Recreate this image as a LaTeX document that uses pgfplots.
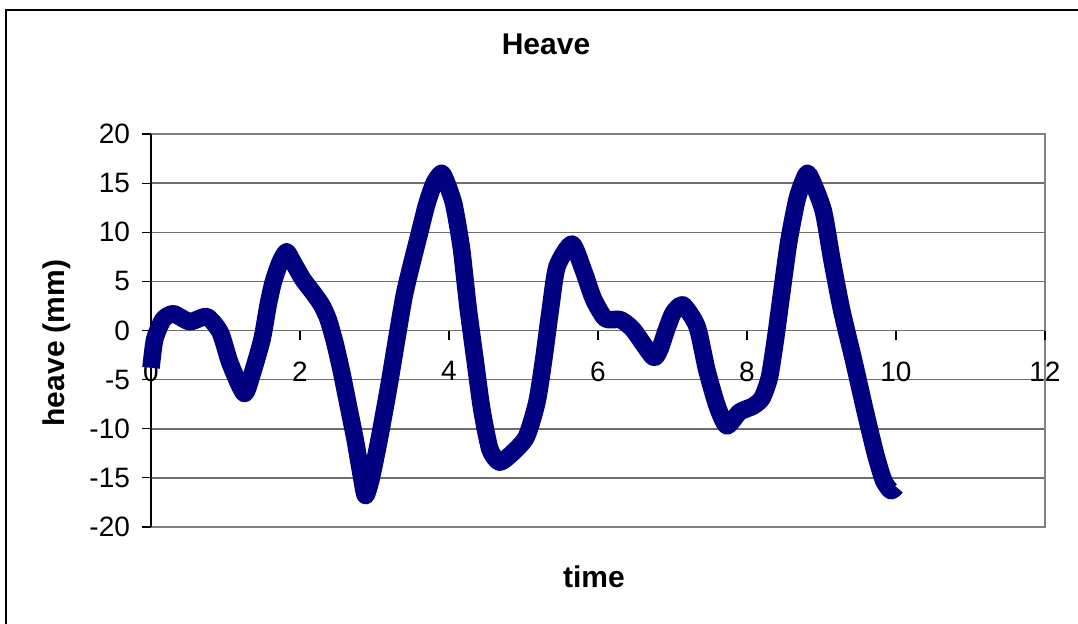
\documentclass[border=0pt]{standalone}
\usepackage{pgfplots}
\pgfplotsset{compat=1.18}
\usepackage{fontspec}
\setmainfont{Liberation Sans}
\definecolor{navyline}{HTML}{000080}
\definecolor{gridgray}{HTML}{6E6E6E}
\definecolor{boxgray}{HTML}{808080}
\begin{document}
\begin{tikzpicture}
\useasboundingbox (0,0) rectangle (539pt,311.5pt);
\draw[line width=1pt] (3pt,-5pt) -- (3pt,306.5pt) -- (560pt,306.5pt);
\pgfplotsset{common/.style={
  scale only axis, width=447pt, height=196.5pt,
  at={(75.5pt,48pt)}, anchor=south west,
  xmin=0, xmax=12, ymin=-20, ymax=20,
  /pgf/number format/assume math mode=true,
  ticklabel style={font=\fontsize{14}{16}\selectfont},
}}
% background: box and grid
\begin{axis}[common,
  axis line style={boxgray, line width=1pt},
  xtick=\empty, ytick={-20,-15,...,20}, yticklabels={},
  ymajorgrids, major grid style={gridgray, line width=0.75pt},
  major tick length=0pt]
\end{axis}
% foreground: axes and data
\begin{axis}[common,
  axis x line=middle, axis y line=left,
  hide obscured x ticks=false,
  x axis line style={-, gridgray, line width=0.75pt},
  y axis line style={-, black, line width=0.8pt},
  xtick={0,2,...,12}, ytick={-20,-15,...,20},
  tick align=outside, major tick length=4.5pt,
  tick style={black, line width=0.6pt},
  xticklabel style={yshift=-7.5pt},
  yticklabel style={xshift=-2.5pt},
  clip=false]
\addplot[navyline, line width=8.8pt, smooth, tension=0.4, line join=round] coordinates {
(0,-3.8) (0.05,-0.9) (0.16,1.1) (0.30,1.7) (0.52,0.9) (0.75,1.4) (0.93,-0.2)
(1.06,-3.3) (1.25,-6.4) (1.35,-4.6) (1.49,-0.9) (1.57,2.5) (1.64,4.9)
(1.73,6.9) (1.82,8.0) (1.91,6.9) (2.04,5.2) (2.18,3.8) (2.29,2.6) (2.38,1.1)
(2.47,-1.3) (2.56,-4.3) (2.65,-7.7) (2.74,-11.1) (2.82,-14.6) (2.88,-16.8)
(2.96,-14.9) (3.07,-10.8) (3.19,-5.8) (3.30,-0.8) (3.40,3.6) (3.50,6.8)
(3.60,9.8) (3.70,12.8) (3.80,15.0) (3.9,16.0) (3.97,15.0) (4.06,13.0) (4.12,10.6)
(4.17,8.2) (4.21,5.5) (4.26,2.1) (4.35,-3.0) (4.44,-8.0) (4.55,-12.1)
(4.68,-13.4) (4.86,-12.4) (5.04,-10.8) (5.18,-7.3) (5.27,-3.0) (5.36,2.1)
(5.45,6.5) (5.65,8.8) (5.8,6.2) (5.94,3.2) (6.1,1.2) (6.3,1.1) (6.47,0.1)
(6.74,-2.7) (6.83,-1.9) (6.92,0.1) (7.01,1.8) (7.14,2.6) (7.33,0.4)
(7.46,-4.0) (7.6,-7.7) (7.73,-9.7) (7.9,-8.3) (8.08,-7.7) (8.2,-6.9)
(8.3,-4.8) (8.38,-1.0) (8.46,3.5) (8.56,9.0) (8.67,13.3) (8.76,15.3)
(8.83,15.9) (9.02,12.3) (9.14,7.2) (9.27,2.1) (9.43,-3.0) (9.58,-8.0)
(9.72,-12.4) (9.83,-15.2) (9.93,-16.3) (10.0,-15.9)
};
\end{axis}
\node[font=\fontsize{15}{17}\selectfont\bfseries] at (273pt,289.5pt) {Heave};
\node[font=\fontsize{15}{17}\selectfont\bfseries] at (297pt,23pt) {time};
\node[font=\fontsize{15}{17}\selectfont\bfseries, rotate=90] at (28.5pt,140pt) {heave (mm)};
\end{tikzpicture}
\end{document}
